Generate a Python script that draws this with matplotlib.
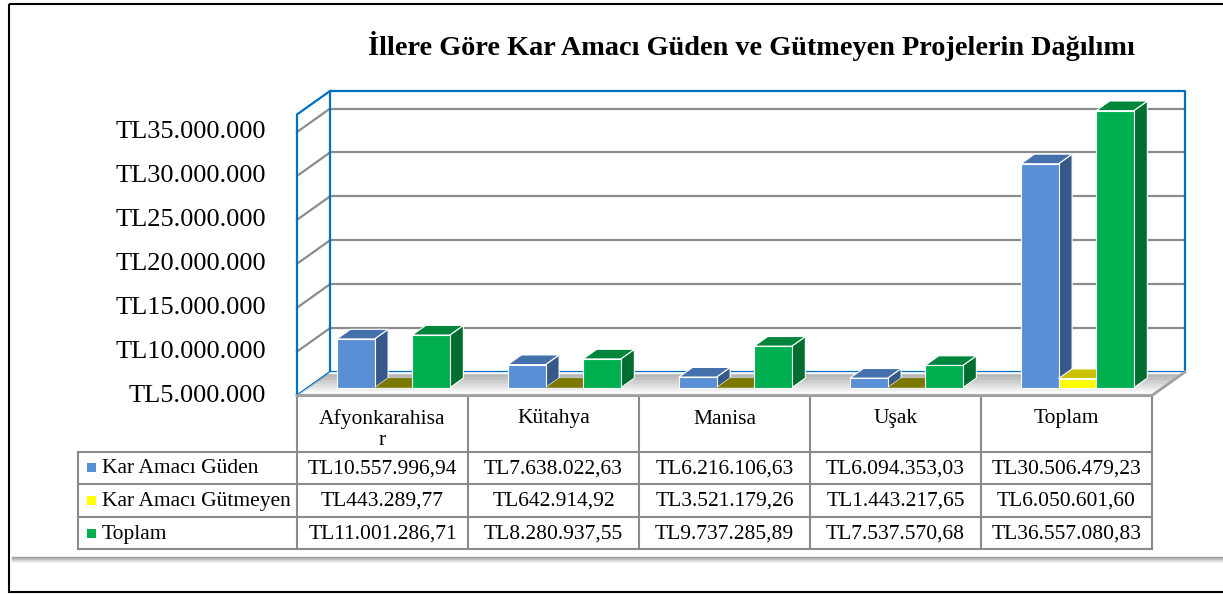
import matplotlib
matplotlib.use("Agg")
import matplotlib.pyplot as plt
from matplotlib.patches import Polygon, Rectangle
from matplotlib.lines import Line2D

# ---------------- data ----------------
categories = ["Afyonkarahisar", "Kütahya", "Manisa", "Uşak", "Toplam"]
series_names = ["Kar Amacı Güden", "Kar Amacı Gütmeyen", "Toplam"]
kar_amaci_guden = [10557996.94, 7638022.63, 6216106.63, 6094353.03, 30506479.23]
kar_amaci_gutmeyen = [443289.77, 642914.92, 3521179.26, 1443217.65, 6050601.60]
toplam = [11001286.71, 8280937.55, 9737285.89, 7537570.68, 36557080.83]
y_ticks = [5000000, 10000000, 15000000, 20000000, 25000000, 30000000, 35000000]
title = "İllere Göre Kar Amacı Güden ve Gütmeyen Projelerin Dağılımı"

series = [kar_amaci_guden, kar_amaci_gutmeyen, toplam]

# ---------------- style ----------------
W, H = 1223, 594
FONT = "Liberation Serif"
front_cols = ["#5A8FD6", "#FFFF00", "#00B050"]
side_cols = ["#36598A", "#BDB800", "#006E30"]
top_cols = ["#4471AB", "#C8C200", "#00853C"]
flat_col = "#7A7800"
wall_blue = "#0070C0"
grid_gray = "#8C8C8C"
Y0, Y1 = 5000000, 37000000
DX, DY = -33.0, -23.5     # depth vector (display px), back -> front
F_FRONT, F_BACK = 0.67, 0.26
BAR_W = 0.22

fig = plt.figure(figsize=(W / 100, H / 100), dpi=100)
fig.patch.set_facecolor("white")

# overlay axes in pixel coordinates for frame / table
ov = fig.add_axes([0, 0, 1, 1], zorder=0)
ov.set_xlim(0, W)
ov.set_ylim(H, 0)
ov.axis("off")

# main axes = back wall of 3D plot area
ax = fig.add_axes([330 / W, (H - 372) / H, 855 / W, 281 / H], zorder=2)
ax.set_xlim(0, len(categories))
ax.set_ylim(Y0, Y1)
ax.axis("off")

p0 = ax.transData.transform((0, Y0))
sx = ax.transData.transform((1, Y0))[0] - p0[0]
sy = (ax.transData.transform((0, Y0 + 1e6))[1] - p0[1]) / 1e6
ddx, ddy = DX / sx, DY / sy


def P(x, v, f):
    return (x + f * ddx, v + f * ddy)


def px(x, v, f):
    d = ax.transData.transform(P(x, v, f))
    return d[0], H - d[1]


n = len(categories)

# ---- gridlines on back wall and left wall ----
for v in y_ticks[1:]:
    ax.add_line(Line2D([0, n], [v, v], color=grid_gray, lw=1.6, zorder=1, clip_on=False))
    a, b = P(0, v, 0), P(0, v, 1)
    ax.add_line(Line2D([a[0], b[0]], [a[1], b[1]], color=grid_gray, lw=1.6, zorder=1, clip_on=False))

# ---- floor with gradient ----
steps = 30
for k in range(steps):
    f0, f1 = k / steps, (k + 1) / steps
    fm = (f0 + f1) / 2
    if fm < 0.1:
        g = 1.0
    elif fm < 0.2:
        g = 0.66
    else:
        g = 0.66 + (0.97 - 0.66) * min(1, (fm - 0.2) / 0.65)
    poly = [P(0, Y0, f0), P(n, Y0, f0), P(n, Y0, f1), P(0, Y0, f1)]
    ax.add_patch(Polygon(poly, closed=True, facecolor=(g, g, g), edgecolor="none",
                         zorder=2, clip_on=False))

# floor front edge (gray)
a, b, c = P(0, Y0, 1), P(n, Y0, 1), P(n, Y0, 0)
ax.add_line(Line2D([a[0], b[0], c[0]], [a[1], b[1], c[1]], color="#A0A0A0", lw=2.0,
                   zorder=2.5, clip_on=False))

# ---- blue wall edges ----
ax.add_line(Line2D([0, 0, n, n, 0], [Y0, Y1, Y1, Y0, Y0], color=wall_blue, lw=1.6,
                   zorder=1.5, clip_on=False))
pts = [P(0, Y0, 0), P(0, Y0, 1), P(0, Y1, 1), P(0, Y1, 0)]
ax.add_line(Line2D([p[0] for p in pts], [p[1] for p in pts], color=wall_blue, lw=1.6,
                   zorder=1.5, clip_on=False))

# ---- bars ----
z = 3
for i in range(n):
    center = i + 0.5
    for s in range(3):
        v = series[s][i]
        x0 = center + (s - 1.5) * BAR_W
        x1 = x0 + BAR_W
        if v <= Y0:
            top = [P(x0, Y0, F_FRONT), P(x1, Y0, F_FRONT), P(x1, Y0, F_BACK), P(x0, Y0, F_BACK)]
            ax.add_patch(Polygon(top, closed=True, facecolor=flat_col, edgecolor="none",
                                 zorder=z, clip_on=False))
        else:
            side = [P(x1, Y0, F_FRONT), P(x1, Y0, F_BACK), P(x1, v, F_BACK), P(x1, v, F_FRONT)]
            top = [P(x0, v, F_FRONT), P(x1, v, F_FRONT), P(x1, v, F_BACK), P(x0, v, F_BACK)]
            front = [P(x0, Y0, F_FRONT), P(x1, Y0, F_FRONT), P(x1, v, F_FRONT), P(x0, v, F_FRONT)]
            ax.add_patch(Polygon(side, closed=True, facecolor=side_cols[s], edgecolor="white",
                                 lw=0.8, zorder=z, clip_on=False))
            ax.add_patch(Polygon(top, closed=True, facecolor=top_cols[s], edgecolor="white",
                                 lw=0.8, zorder=z, clip_on=False))
            ax.add_patch(Polygon(front, closed=True, facecolor=front_cols[s], edgecolor="white",
                                 lw=0.8, zorder=z + 0.1, clip_on=False))
        z += 0.2

# ---- y tick labels on the front plane ----
for v in y_ticks:
    xx, yy = P(0, v, 1)
    ax.text(xx - 31 / sx, yy, "TL" + f"{v:,.0f}".replace(",", "."), ha="right", va="center",
            fontsize=19, family=FONT, color="black", clip_on=False)

# ---- title ----
ov.text(751, 55, title, ha="center", va="baseline", fontsize=20.3, fontweight="bold",
        family=FONT, color="black")

# ---- outer frame & shadow ----
ov.add_patch(Rectangle((8.5, 3.5), 1300, 588.5, facecolor="none", edgecolor="black", lw=1.5,
                       zorder=5, clip_on=True))
for k in range(6):
    g = 0.62 + k * 0.065
    ov.add_line(Line2D([12, W], [556.5 + k, 556.5 + k], color=(g, g, g), lw=1.0, zorder=1))

# ---- data table ----
def tr_fmt(v):
    return "TL" + f"{v:,.2f}".replace(",", "#").replace(".", ",").replace("#", ".")


col_x = [px(i, Y0, 1)[0] for i in range(n + 1)]
label_left = 78
row_y = [395.5, 451.5, 484, 516.7, 549.3]
tcol = "#8A8A8A"
tlw = 1.5
tfs = 15.5

# horizontal lines
ov.add_line(Line2D([col_x[0], col_x[-1]], [row_y[0], row_y[0]], color=tcol, lw=tlw, zorder=3))
for yy in row_y[1:]:
    ov.add_line(Line2D([label_left, col_x[-1]], [yy, yy], color=tcol, lw=tlw, zorder=3))
# vertical lines
for xx in col_x:
    ov.add_line(Line2D([xx, xx], [row_y[0], row_y[-1]], color=tcol, lw=tlw, zorder=3))
ov.add_line(Line2D([label_left, label_left], [row_y[1], row_y[-1]], color=tcol, lw=tlw, zorder=3))

# headers
for i, cat in enumerate(categories):
    cx = (col_x[i] + col_x[i + 1]) / 2
    lab = cat if len(cat) <= 13 else cat[:13] + "\n" + cat[13:]
    ov.text(cx, 409.5, lab, ha="center", va="top", fontsize=tfs, family=FONT,
            linespacing=1.12, color="black", zorder=4)

# rows
for r in range(3):
    yc = (row_y[r + 1] + row_y[r + 2]) / 2
    ov.add_patch(Rectangle((87, yc - 4.5), 9, 9, facecolor=front_cols[r], edgecolor="none",
                           zorder=4))
    ov.text(102, yc + 1, series_names[r], ha="left", va="center", fontsize=tfs, family=FONT,
            color="black", zorder=4)
    for i in range(n):
        cx = (col_x[i] + col_x[i + 1]) / 2
        ov.text(cx, yc + 1, tr_fmt(series[r][i]), ha="center", va="center", fontsize=tfs,
                family=FONT, color="black", zorder=4)

fig.savefig("out.png", dpi=100, facecolor="white")
